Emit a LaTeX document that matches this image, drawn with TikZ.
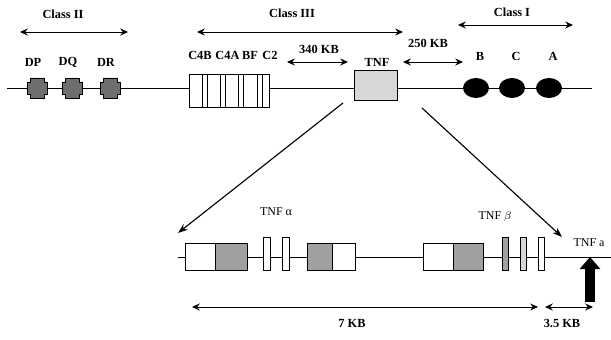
\documentclass[tikz,border=0pt]{standalone}
\usepackage{fontspec}
\setmainfont{Liberation Serif}
\usetikzlibrary{arrows.meta,shapes.geometric,positioning}
\definecolor{stipple}{RGB}{160,160,160}
\definecolor{lightstip}{RGB}{215,215,215}
\definecolor{hlagray}{RGB}{110,110,110}
\tikzset{
  lbl/.style={font=\fontsize{8.8}{10}\selectfont\bfseries,inner sep=1pt},
  genelbl/.style={font=\fontsize{8.5}{10}\selectfont,inner sep=1pt},
  chrom/.style={line width=0.7pt},
  dimarr/.style={<->,>={Stealth[length=5.5pt,width=5pt]},line width=0.7pt},
  diagarr/.style={->,>={Stealth[length=7pt,width=5pt]},line width=0.8pt},
  exon/.style={rectangle,draw,line width=0.7pt,fill=white,inner sep=0pt,minimum height=0.675cm},
  exonfill/.style={exon,fill=stipple},
  strip/.style={rectangle,draw,line width=0.7pt,fill=white,inner sep=0pt,minimum width=0.15cm,minimum height=0.825cm},
  hlabox/.style={draw,line width=0.7pt,fill=hlagray},
  classone/.style={ellipse,fill=black,inner sep=0pt,minimum width=0.65cm,minimum height=0.5cm},
  bigarr/.style={line width=0.25cm,-{Triangle[length=0.3cm,width=0.5cm]}}
}

\begin{document}
\begin{tikzpicture}[x=0.025cm,y=-0.025cm]
  \useasboundingbox (0,0) rectangle (611,340);
  % chromosome 6 map
  \coordinate (tl) at (7,88);
  \coordinate (tr) at (592,88);
  \draw[chrom] (tl)--(tr);

  % class II
  \coordinate (c2l) at (20,32);
  \coordinate (c2r) at (128,32);
  \draw[dimarr] (c2l)--(c2r);
  \node[lbl] (c2lab) at (63,14) {Class II};
  \foreach \n/\x/\t in {dp/37/DP,dq/72/DQ,dr/110/DR}{
    \draw[hlabox] (\x-7,78)--(\x+7,78)--(\x+7,82)--(\x+10,82)--(\x+10,94)--(\x+7,94)
      --(\x+7,98)--(\x-7,98)--(\x-7,94)--(\x-10,94)--(\x-10,82)--(\x-7,82)--cycle;
    \node[inner sep=0pt,minimum width=0.5cm,minimum height=0.5cm] (\n) at (\x,88) {};
    \node[lbl] (\n lab) at (\x-4,62) {\t};
  }

  % class III
  \coordinate (c3l) at (197,32);
  \coordinate (c3r) at (403,32);
  \draw[dimarr] (c3l)--(c3r);
  \node[lbl] (c3lab) at (292,13) {Class III};
  \node[exon,minimum width=2cm,minimum height=0.825cm] (c4) at (229,90.5) {};
  \foreach \n/\x in {s1/204.5,s2/222.5,s3/240.5,s4/259.5}
    \node[strip,minimum width=0.125cm] (\n) at (\x,90.5) {};
  \node[lbl] (c4blab) at (200,55) {C4B};
  \node[lbl] (c4alab) at (227.5,55) {C4A};
  \node[lbl] (bflab) at (250,55) {BF};
  \node[lbl] (c2glab) at (270,55) {C2};
  \coordinate (k340l) at (287,62);
  \coordinate (k340r) at (348,62);
  \draw[dimarr] (k340l)--(k340r);
  \node[lbl] (k340lab) at (319,49) {340 KB};
  \node[exon,fill=lightstip,minimum width=1.075cm,minimum height=0.75cm] (tnf) at (375.5,85) {};
  \node[lbl] (tnflab) at (377,62) {TNF};
  \coordinate (k250l) at (403,62);
  \coordinate (k250r) at (463,62);
  \draw[dimarr] (k250l)--(k250r);
  \node[lbl] (k250lab) at (428,43) {250 KB};

  % class I
  \coordinate (c1l) at (458,25);
  \coordinate (c1r) at (573,25);
  \draw[dimarr] (c1l)--(c1r);
  \node[lbl] (c1lab) at (512,12) {Class I};
  \foreach \n/\x/\t in {hb/476/B,hc/512/C,ha/549/A}{
    \node[classone] (\n) at (\x,88) {};
    \node[lbl] (\n lab) at (\x+4,56) {\t};
  }

  % zoom into TNF region
  \coordinate (zl0) at (343,103);
  \coordinate (zl1) at (178,233);
  \coordinate (zr0) at (422,108);
  \coordinate (zr1) at (562,237);
  \draw[diagarr] (zl0)--(zl1);
  \draw[diagarr] (zr0)--(zr1);

  \coordinate (bl) at (178,257);
  \coordinate (br) at (611,257);
  \draw[chrom] (bl)--(br);

  % TNF alpha
  \node[exon,minimum width=0.75cm] (a1) at (200,256.5) {};
  \node[exonfill,minimum width=0.8cm] (a2) at (231,256.5) {};
  \node[strip,minimum width=0.175cm] (a3) at (266.5,253.5) {};
  \node[strip,minimum width=0.175cm] (a4) at (285.5,253.5) {};
  \node[exonfill,minimum width=0.625cm] (a5) at (319.5,256.5) {};
  \node[exon,minimum width=0.575cm] (a6) at (343.5,256.5) {};
  \node[genelbl] (alab) at (276,212) {TNF α};

  % TNF beta
  \node[exon,minimum width=0.75cm] (b1) at (438,256.5) {};
  \node[exonfill,minimum width=0.75cm] (b2) at (468,256.5) {};
  \node[strip,fill=stipple] (b3) at (505,253.5) {};
  \node[strip,fill=lightstip] (b4) at (523,253.5) {};
  \node[strip] (b5) at (541,253.5) {};
  \node[genelbl] (blab) at (495,217) {TNF $\beta$};

  % TNF a marker
  \node[genelbl] (tlab) at (589,243) {TNF a};
  \coordinate (tnfa) at (590,257);
  \coordinate (tnfabase) at (590,302);
  \draw[bigarr] (tnfabase)--(tnfa);

  % distances
  \coordinate (k7l) at (192,307);
  \coordinate (k7r) at (538,307);
  \draw[dimarr] (k7l)--(k7r);
  \node[lbl] (k7lab) at (352,323) {7 KB};
  \coordinate (k35l) at (545,307);
  \coordinate (k35r) at (593,307);
  \draw[dimarr] (k35l)--(k35r);
  \node[lbl] (k35lab) at (562,323) {3.5 KB};
\end{tikzpicture}
\end{document}
